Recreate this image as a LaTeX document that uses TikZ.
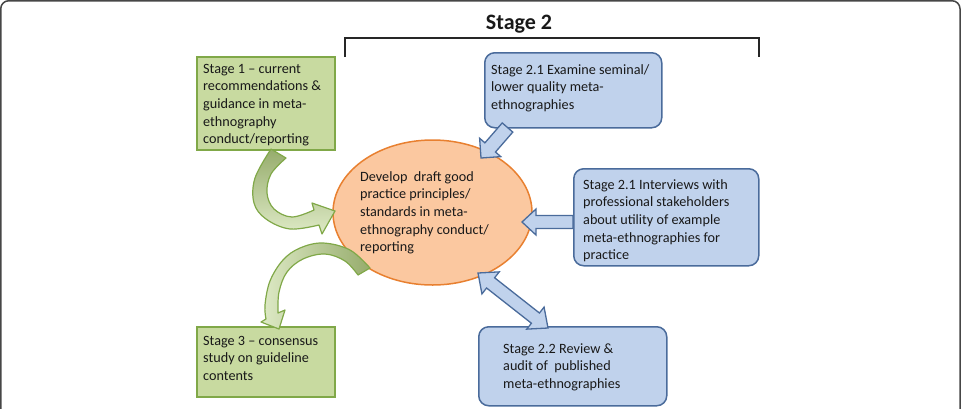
\documentclass[tikz,border=0pt]{standalone}
\usepackage{fontspec}
\setmainfont{Carlito}
\usetikzlibrary{shapes.geometric,calc}
\definecolor{bluefill}{RGB}{192,210,236}
\definecolor{blueline}{RGB}{74,107,155}
\definecolor{greenfill}{RGB}{200,218,160}
\definecolor{greenline}{RGB}{128,168,72}
\definecolor{greendark}{RGB}{150,172,108}
\definecolor{greenlight}{RGB}{222,234,198}
\definecolor{orfill}{RGB}{251,200,160}
\definecolor{orline}{RGB}{232,128,48}
\definecolor{txtcol}{RGB}{25,25,25}
\definecolor{framecol}{RGB}{70,70,70}
\newcommand\bodyfont{\fontsize{14.2}{17.7}\selectfont}
\newcommand\txtblock[1]{\parbox[t]{8cm}{\raggedright #1}}
\newcommand\singlearrow[5]{% tail, tip, s, h, L
  \coordinate (hb) at ($(#2)!#5!(#1)$);
  \path[barrow] ($(#1)!#3!90:(#2)$) -- ($(hb)!#3!90:(#2)$) -- ($(hb)!#4!90:(#2)$) -- (#2)
    -- ($(hb)!#4!-90:(#2)$) -- ($(hb)!#3!-90:(#2)$) -- ($(#1)!#3!-90:(#2)$) -- cycle;}
\newcommand\doublearrow[5]{% tip1, tip2, s, h, L
  \coordinate (hbA) at ($(#1)!#5!(#2)$);
  \coordinate (hbB) at ($(#2)!#5!(#1)$);
  \path[barrow] (#1) -- ($(hbA)!#4!90:(#2)$) -- ($(hbA)!#3!90:(#2)$) -- ($(hbB)!#3!-90:(#1)$)
    -- ($(hbB)!#4!-90:(#1)$) -- (#2) -- ($(hbB)!#4!90:(#1)$) -- ($(hbB)!#3!90:(#1)$)
    -- ($(hbA)!#3!-90:(#2)$) -- ($(hbA)!#4!-90:(#2)$) -- cycle;}
\begin{document}
\begin{tikzpicture}[x=1pt,y=-1pt,
  gbox/.style={rectangle, draw=greenline, fill=greenfill, line width=1.8pt, anchor=north west, inner sep=0pt},
  bbox/.style={rectangle, rounded corners=10pt, draw=blueline, fill=bluefill, line width=1.5pt, anchor=north west, inner sep=0pt},
  txt/.style={anchor=base west, inner sep=0pt, font=\bodyfont, text=txtcol},
  barrow/.style={draw=blueline, fill=bluefill, line width=1.3pt, line join=miter},
  garrow/.style={draw=greenline, line width=1.2pt, line join=round},
]
\useasboundingbox (0,0) rectangle (965,408);
\draw[framecol, line width=1.5pt, rounded corners=8pt] (0.75,0.75) rectangle (960,440);

% title and bracket
\node[font=\fontsize{22}{26}\selectfont\bfseries, text=txtcol, anchor=base, inner sep=0pt] (title) at (519,29.5) {Stage 2};
\coordinate (brL) at (345,57);
\coordinate (brR) at (759,57);
\draw[line width=2pt, black!85] (brL) -- (brL |- 0,38) -- (brR |- 0,38) -- (brR);

% boxes
\node[gbox, minimum width=138pt, minimum height=93pt] (s1) at (196,56) {};
\node[gbox, minimum width=138pt, minimum height=70pt] (s3) at (196,326) {};
\node[bbox, minimum width=177pt, minimum height=75pt] (s21a) at (484,52) {};
\node[bbox, minimum width=185pt, minimum height=97pt] (s21b) at (573,168) {};
\node[bbox, minimum width=188pt, minimum height=79pt] (s22) at (478,326) {};
\node[ellipse, draw=orline, fill=orfill, line width=1.5pt, minimum width=199pt, minimum height=145pt, inner sep=0pt] (dev) at (432.5,212.5) {};

% texts
\node[txt] (s1t) at (203,73) {\txtblock{Stage 1 – current\\recommendations \&\\guidance in meta-\\ethnography\\conduct/reporting}};
\node[txt] (s3t) at (203,345) {\txtblock{Stage 3 – consensus\\study on guideline\\contents}};
\node[txt] (s21at) at (491,74) {\txtblock{Stage 2.1 Examine seminal/\\lower quality meta-\\ethnographies}};
\node[txt] (s21bt) at (583,189) {\txtblock{Stage 2.1 Interviews with\\professional stakeholders\\about utility of example\\meta-ethnographies for\\practice}};
\node[txt] (s22t) at (503,353) {\txtblock{Stage 2.2 Review \&\\audit of\ \ published\\meta-ethnographies}};
\node[txt] (devt) at (360,181) {\txtblock{Develop\ \ draft good\\practice principles/\\standards in meta-\\ethnography conduct/\\reporting}};

% green curved arrows
\path[garrow, top color=greendark, bottom color=greenlight]
  plot[smooth, tension=0.6] coordinates {(271,149) (255,178) (254,203) (266,219) (290,229) (319,225)}
  -- (322,234) -- (335,211) -- (312,203)
  -- plot[smooth, tension=0.6] coordinates {(314,210) (292,217) (274,209) (267,193) (271,174) (286,158)}
  -- cycle;
\path[garrow, left color=greenlight, right color=greendark]
  plot[smooth, tension=0.6] coordinates {(370,268) (350,250) (323,243) (300,248) (283,260) (270,281) (265,305) (266,319)}
  -- (261,322) -- (279,329) -- (285,310)
  -- plot[smooth, tension=0.6] coordinates {(278,313) (279,292) (287,272) (303,259) (325,254) (345,261) (358,275)}
  -- cycle;

% blue block arrows
\coordinate (a1s) at (507.5,127.5);
\coordinate (a1t) at (481,158);
\singlearrow{a1s}{a1t}{7pt}{14pt}{14pt}
\coordinate (a2s) at (573,222);
\coordinate (a2t) at (522,222);
\singlearrow{a2s}{a2t}{6.5pt}{13pt}{14pt}
\coordinate (a3a) at (478,273);
\coordinate (a3b) at (548,328);
\doublearrow{a3a}{a3b}{6.5pt}{14pt}{16pt}
\end{tikzpicture}
\end{document}
